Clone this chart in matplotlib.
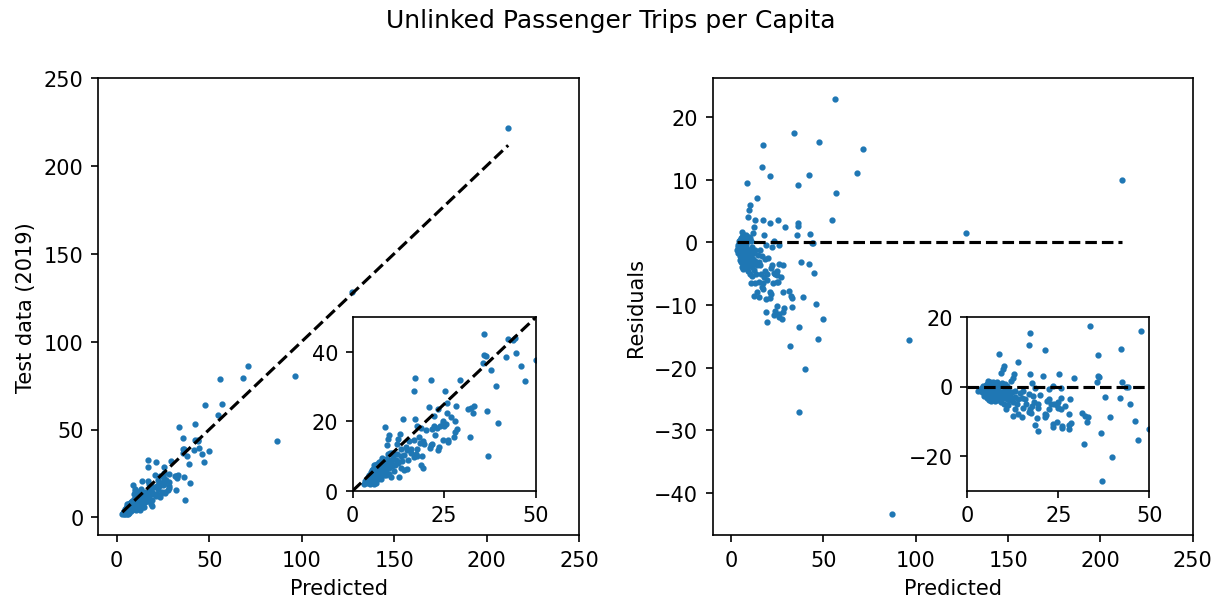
import matplotlib
matplotlib.use("Agg")
import matplotlib.pyplot as plt
import numpy as np

predicted = [56.1, 71.2, 68.1, 56.8, 54.6, 211.7, 127.0, 96.2, 86.9,
             33.8, 47.8, 17.1, 16.8, 21.3, 8.8, 42.3, 36.0, 10.0, 9.7,
             9.3, 13.8, 12.9, 12.4, 12.0, 17.1, 20.9, 25.3, 29.4, 36.0,
             36.3, 35.6, 42.5, 17.7, 43.7, 44.2, 23.4, 25.7, 37.8, 41.9,
             44.6, 46.0, 39.1, 36.6, 47.0, 50.0, 39.8, 37.0, 32.0, 31.4,
             32.3, 33.2, 32.8, 28.2, 28.0, 28.4, 28.0, 27.8, 25.9, 26.1,
             25.6, 25.8, 24.7, 23.6, 23.4, 24.8, 23.9, 23.0, 22.3, 21.8,
             22.3, 21.3, 21.2, 21.7, 19.3, 18.6, 19.3, 19.5, 18.4, 17.7,
             17.5, 16.8, 17.2, 18.1, 18.6, 16.8, 15.8, 14.9, 14.0, 12.6,
             13.1, 13.6, 14.0, 14.9, 15.4, 13.1, 11.7, 10.8, 10.5, 10.0,
             9.4, 8.5, 8.1, 7.6, 7.1, 6.2, 5.8, 5.3, 4.4, 3.5,
             3.0, 3.9, 4.9, 5.8, 6.2, 5.3, 6.7, 7.1, 8.1, 9.0,
             10.0, 10.3, 11.3, 12.2, 13.1, 4.9, 3.9, 6.7, 8.1, 9.0,
             7.6, 25.0, 24.6,
             4.5, 5.0, 5.5, 6.0, 6.5, 7.0, 7.5, 8.0, 8.5, 9.0,
             9.5, 5.2, 5.7, 6.3, 6.8, 7.3, 4.7, 5.0, 5.6, 6.1,
             6.6, 7.3, 7.8, 8.4, 4.2, 6.0, 7.0, 8.8, 9.8, 10.5,
             11.0, 11.5, 12.0, 12.5, 11.2, 9.2, 6.5, 5.9, 7.9, 8.6,
             10.8, 9.6, 6.4, 5.4, 7.6, 14.5, 16.0, 15.2, 20.0, 19.0,
             22.5, 26.8]

test_2019 = [79.0, 86.1, 79.1, 64.6, 58.2, 221.7, 128.4, 80.6, 43.5,
             51.3, 63.8, 32.6, 28.8, 31.8, 18.3, 53.0, 45.2, 16.0, 14.8,
             13.3, 20.8, 16.4, 14.9, 13.5, 20.6, 24.0, 28.9, 31.9, 39.1,
             38.9, 36.8, 43.8, 18.8, 43.6, 44.1, 23.6, 25.2, 34.7, 38.5,
             39.7, 36.1, 30.3, 23.1, 31.6, 37.8, 19.6, 9.9, 15.5, 23.7,
             23.8, 24.3, 22.5, 24.5, 20.0, 17.9, 16.9, 15.6, 14.5, 14.1,
             19.2, 22.4, 14.5, 12.7, 11.8, 20.2, 18.8, 18.1, 18.6, 17.7,
             21.5, 13.3, 12.3, 13.4, 6.5, 7.5, 14.2, 13.4, 13.8, 12.1,
             10.0, 9.6, 10.7, 15.4, 18.1, 14.6, 12.1, 6.2, 6.0, 4.1,
             6.6, 8.5, 10.3, 11.7, 14.2, 10.1, 9.0, 7.1, 4.0, 4.9,
             6.7, 4.6, 6.4, 6.8, 8.3, 7.4, 7.4, 6.0, 4.6, 2.7,
             1.8, 2.2, 2.7, 2.8, 2.5, 2.1, 4.5, 5.9, 4.9, 6.8,
             8.8, 11.0, 10.5, 10.5, 11.9, 4.1, 3.4, 6.9, 9.3, 9.2,
             3.5, 18.7, 19.4,
             3.3, 3.5, 5.0, 5.0, 5.0, 4.5, 5.5, 7.5, 7.5, 6.0,
             8.0, 2.7, 3.7, 3.5, 3.5, 3.7, 1.9, 5.3, 6.4, 6.5,
             7.6, 7.8, 8.7, 8.7, 3.9, 5.7, 6.4, 6.2, 6.5, 8.3,
             9.5, 7.5, 8.5, 8.0, 5.8, 4.6, 2.3, 2.0, 5.1, 6.7,
             11.0, 10.5, 4.6, 4.3, 6.2, 12.5, 11.0, 8.9, 17.5, 10.0,
             16.0, 21.3]

pred = np.array(predicted)
test = np.array(test_2019)
resid = test - pred

fig = plt.figure(figsize=(8.147, 3.993), dpi=150)
fig.suptitle("Unlinked Passenger Trips per Capita", fontsize=12, y=0.985)

# left: test vs predicted
ax1 = fig.add_axes([0.0804, 0.1052, 0.3934, 0.763])
ax1.scatter(pred, test, s=4)
ax1.plot([pred.min(), pred.max()], [pred.min(), pred.max()], "k--", lw=1.5)
ax1.set_xlim(-10, 250)
ax1.set_ylim(-10, 250)
ax1.set_xlabel("Predicted")
ax1.set_ylabel("Test data (2019)")

ins1 = fig.add_axes([0.2886, 0.1791, 0.1498, 0.2895])
ins1.scatter(pred, test, s=4)
ins1.plot([0, pred.max()], [0, pred.max()], "k--", lw=1.5)
ins1.set_xlim(0, 50)
ins1.set_ylim(0, 50)
ins1.set_xticks([0, 25, 50])
ins1.set_yticks([0, 20, 40])

# right: residuals
ax2 = fig.add_axes([0.5832, 0.1052, 0.3928, 0.763])
ax2.scatter(pred, resid, s=4)
ax2.plot([pred.min(), pred.max()], [0, 0], "k--", lw=1.5)
ax2.set_xlim(-10, 250)
ax2.set_xlabel("Predicted")
ax2.set_ylabel("Residuals")

ins2 = fig.add_axes([0.7916, 0.1791, 0.1489, 0.29])
ins2.scatter(pred, resid, s=4)
ins2.plot([0, pred.max()], [0, 0], "k--", lw=1.5)
ins2.set_xlim(0, 50)
ins2.set_ylim(-30, 20)
ins2.set_xticks([0, 25, 50])
ins2.set_yticks([-20, 0, 20])

fig.savefig("out.png", dpi=150)
